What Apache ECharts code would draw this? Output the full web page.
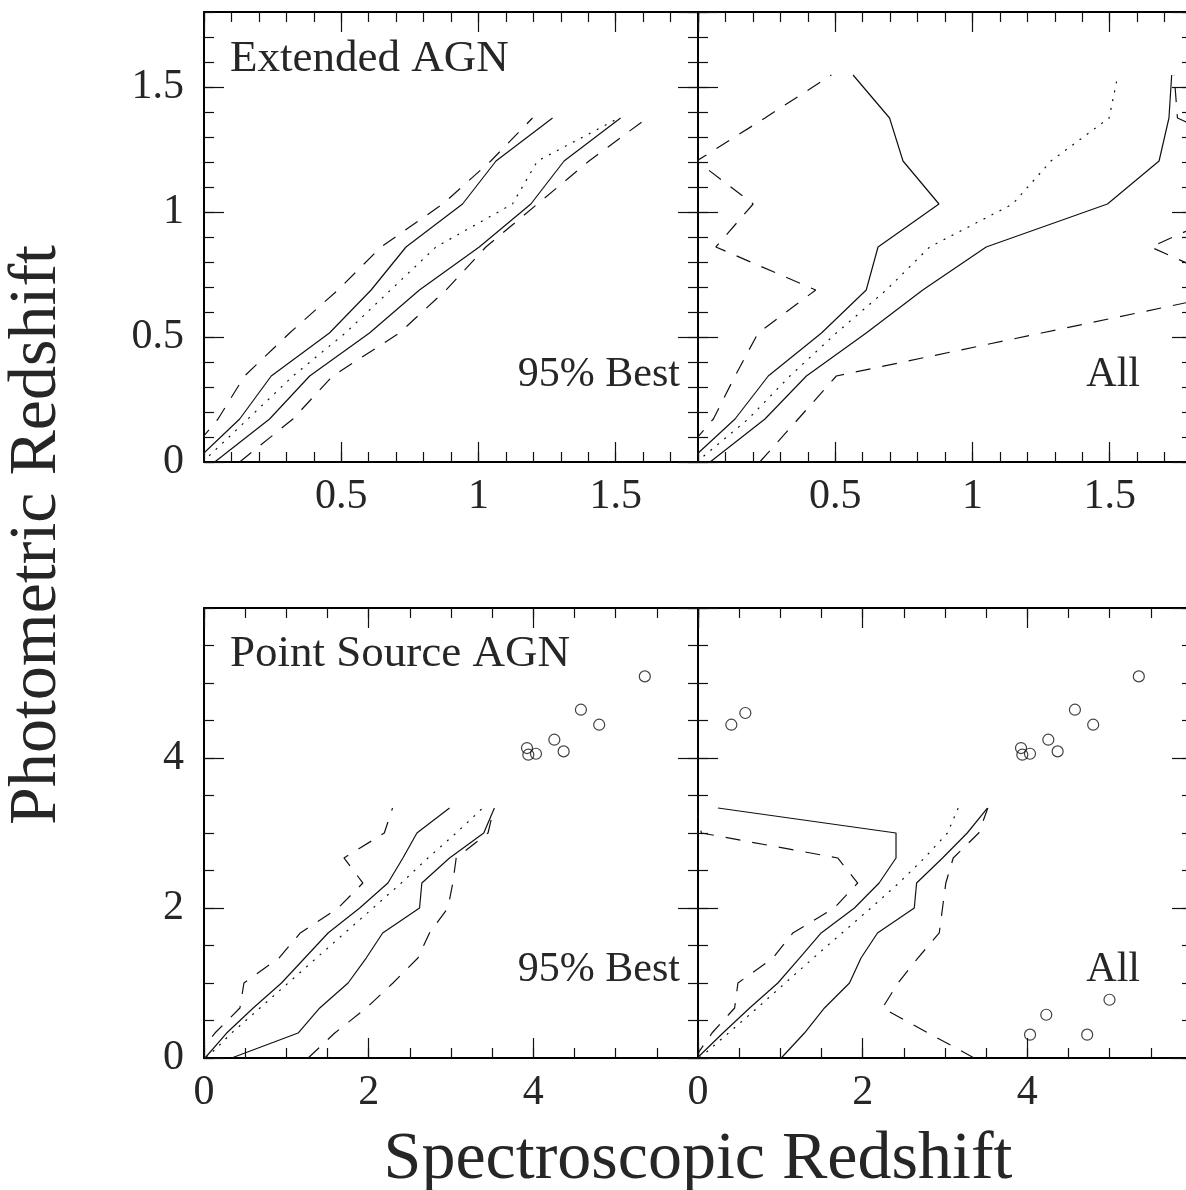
<!DOCTYPE html>
<html>
<head>
<meta charset="utf-8">
<script src="https://cdn.jsdelivr.net/npm/echarts@6/dist/echarts.min.js"></script>
<style>
  html, body { margin: 0; padding: 0; background: #fff; }
  #chart { width: 1186px; height: 1190px; }
</style>
</head>
<body>
<div id="chart"></div>
<script>
// photometric redshift bins (y) used by every curve
var extBins = [0, 0.172, 0.344, 0.516, 0.688, 0.86, 1.032, 1.204, 1.376, 1.548];
var psBins = [0, 0.333, 0.667, 1, 1.333, 1.667, 2, 2.333, 2.667, 3, 3.333];

// spectroscopic redshift at each bin: dashed outer, solid inner, dotted middle
// extended AGN, 95% best
var extBestDashHi = [-0.08, 0.051, 0.148, 0.312, 0.488, 0.645, 0.870, 1.045, 1.197];
var extBestSolidHi = [-0.035, 0.130, 0.245, 0.457, 0.609, 0.736, 0.942, 1.064, 1.270];
var extBestDot = [-0.005, 0.160, 0.324, 0.515, 0.680, 0.845, 1.124, 1.215, 1.512];
var extBestSolidLo = [0.039, 0.239, 0.385, 0.603, 0.785, 1.003, 1.191, 1.312, 1.518];
var extBestDashLo = [0.130, 0.324, 0.469, 0.712, 0.882, 1.027, 1.215, 1.403, 1.615];
// extended AGN, all
var extAllDashHi = [-0.08, 0.056, 0.135, 0.219, 0.429, 0.065, 0.201, -0.005, 0.244, 0.486];
var extAllSolidHi = [-0.035, 0.135, 0.256, 0.450, 0.613, 0.656, 0.878, 0.747, 0.698, 0.565];
var extAllDot = [-0.005, 0.183, 0.335, 0.504, 0.686, 0.844, 1.147, 1.286, 1.498, 1.530];
var extAllSolidLo = [0.044, 0.244, 0.395, 0.613, 0.819, 1.050, 1.492, 1.680, 1.716, 1.726];
var extAllDashLo = [0.225, 0.365, 0.504, 1.252, 2.0, 1.650, 2.0, 2.1, 1.747, 1.735];
// point source AGN, 95% best
var psBestDashHi = [-0.1, 0.133, 0.436, 0.485, 0.91, 1.17, 1.63, 1.93, 1.70, 2.19, 2.29];
var psBestSolidHi = [0.012, 0.275, 0.598, 0.941, 1.224, 1.507, 1.891, 2.234, 2.416, 2.586, 2.982];
var psBestDot = [0.03, 0.335, 0.679, 1.022, 1.366, 1.709, 2.053, 2.396, 2.719, 3.063, 3.386];
var psBestSolidLo = [0.335, 1.143, 1.406, 1.75, 1.97, 2.17, 2.618, 2.646, 2.982, 3.398, 3.527];
var psBestDashLo = [1.265, 1.588, 1.972, 2.295, 2.598, 2.739, 2.962, 3.022, 3.063, 3.45, 3.52];
// point source AGN, all
var psAllDashHi = [-0.04, 0.17, 0.445, 0.485, 0.91, 1.152, 1.655, 1.94, 1.697, 0.041, -0.027];
var psAllSolidHi = [-0.01, 0.303, 0.627, 0.97, 1.233, 1.496, 1.9, 2.2, 2.405, 2.405, 0.242];
var psAllDot = [0.02, 0.37, 0.72, 1.06, 1.40, 1.75, 2.10, 2.44, 2.75, 3.03, 3.16];
var psAllSolidLo = [1.011, 1.293, 1.536, 1.84, 1.98, 2.18, 2.627, 2.655, 2.970, 3.27, 3.515];
var psAllDashLo = [3.354, 2.797, 2.24, 2.43, 2.67, 2.93, 2.97, 3.01, 3.10, 3.41, 3.52];

// individual high redshift objects (circles)
var qsoX = [3.923, 3.939, 4.032, 4.255, 4.368, 4.578, 4.8, 5.354];
var qsoY = [4.133, 4.044, 4.057, 4.244, 4.088, 4.644, 4.444, 5.088];
// extra outliers only in the "All" panel
var outX = [0.405, 0.575, 4.033, 4.23, 4.727, 4.998];
var outY = [4.444, 4.6, 0.311, 0.577, 0.311, 0.777];

var FONT = 'Liberation Serif';
var INK = '#111';
var TEXT = '#262626';

var myChart = echarts.init(document.getElementById('chart'));

var grids = [
  {left: 204, top: 12, width: 494, height: 450},
  {left: 698, top: 12, width: 494, height: 450},
  {left: 204, top: 608, width: 494, height: 450},
  {left: 698, top: 608, width: 494, height: 450}
];
grids.forEach(function(g){ g.containLabel = false; g.outerBoundsMode = 'none'; });

var xAxes = [];
var yAxes = [];
//each side gets a minor axis (short ticks + frame line) and a major axis (long ticks + labels)
function addSide(list, gi, pos, max, major, minor, label) {
  list.push({
    gridIndex: gi, type: 'value', position: pos, min: 0, max: max, interval: minor,
    axisLine: {show: true, onZero: false, lineStyle: {color: '#000', width: 2}},
    axisTick: {show: true, inside: true, length: 10, lineStyle: {color: INK, width: 1.2}},
    axisLabel: {show: false}, splitLine: {show: false}
  });
  list.push({
    gridIndex: gi, type: 'value', position: pos, min: 0, max: max, interval: major,
    axisLine: {show: false, onZero: false},
    axisTick: {show: true, inside: true, length: 20, lineStyle: {color: INK, width: 1.2}},
    axisLabel: label ? {
      show: true, fontFamily: FONT, fontSize: 42, color: TEXT, margin: label.margin,
      showMinLabel: label.showMin, showMaxLabel: false
    } : {show: false},
    splitLine: {show: false}
  });
}
var panels = [
  {max: 1.8, major: 0.5, minor: 0.1, xMin: false, yLab: true},
  {max: 1.8, major: 0.5, minor: 0.1, xMin: false, yLab: false},
  {max: 6, major: 2, minor: 0.5, xMin: true, yLab: true},
  {max: 6, major: 2, minor: 0.5, xMin: true, yLab: false}
];
panels.forEach(function(p, gi){
  addSide(xAxes, gi, 'bottom', p.max, p.major, p.minor, {margin: 14, showMin: p.xMin});
  addSide(xAxes, gi, 'top', p.max, p.major, p.minor, null);
  addSide(yAxes, gi, 'left', p.max, p.major, p.minor, p.yLab ? {margin: 20, showMin: true} : null);
  addSide(yAxes, gi, 'right', p.max, p.major, p.minor, null);
});

var dashStyle = {solid: 'solid', dashed: [15, 12], dotted: [2, 7]};
var series = [];
function curve(gi, bins, xs, kind) {
  var pts = [];
  for (var i = 0; i < xs.length; i++) {
    pts.push([xs[i], bins[i]]);
  }
  series.push({
    type: 'line', xAxisIndex: gi * 4 + 1, yAxisIndex: gi * 4 + 1, data: pts,
    symbol: 'none', showSymbol: false, silent: true, clip: true,
    lineStyle: {color: INK, width: 1.2, type: dashStyle[kind]}
  });
}
function circles(gi, xs, ys) {
  var pts = [];
  for (var i = 0; i < xs.length; i++) {
    pts.push([xs[i], ys[i]]);
  }
  series.push({
    type: 'scatter', xAxisIndex: gi * 4 + 1, yAxisIndex: gi * 4 + 1, data: pts,
    symbol: 'circle', symbolSize: 11, silent: true,
    itemStyle: {color: 'rgba(0,0,0,0)', borderColor: INK, borderWidth: 1.2}
  });
}

curve(0, extBins, extBestDashHi, 'dashed');
curve(0, extBins, extBestSolidHi, 'solid');
curve(0, extBins, extBestDot, 'dotted');
curve(0, extBins, extBestSolidLo, 'solid');
curve(0, extBins, extBestDashLo, 'dashed');

curve(1, extBins, extAllDashHi, 'dashed');
curve(1, extBins, extAllSolidHi, 'solid');
curve(1, extBins, extAllDot, 'dotted');
curve(1, extBins, extAllSolidLo, 'solid');
curve(1, extBins, extAllDashLo, 'dashed');

curve(2, psBins, psBestDashHi, 'dashed');
curve(2, psBins, psBestSolidHi, 'solid');
curve(2, psBins, psBestDot, 'dotted');
curve(2, psBins, psBestSolidLo, 'solid');
curve(2, psBins, psBestDashLo, 'dashed');
circles(2, qsoX, qsoY);

curve(3, psBins, psAllDashHi, 'dashed');
curve(3, psBins, psAllSolidHi, 'solid');
curve(3, psBins, psAllDot, 'dotted');
curve(3, psBins, psAllSolidLo, 'solid');
curve(3, psBins, psAllDashLo, 'dashed');
circles(3, qsoX, qsoY);
circles(3, outX, outY);

function label(text, x, y, size, align, rot) {
  return {
    type: 'text', x: x, y: y, rotation: rot || 0, silent: true,
    style: {
      text: text, fontFamily: FONT, fontSize: size, fill: TEXT,
      align: align, verticalAlign: 'middle', textAlign: align, textVerticalAlign: 'middle'
    }
  };
}

var option = {
  animation: false,
  backgroundColor: '#fff',
  grid: grids,
  xAxis: xAxes,
  yAxis: yAxes,
  series: series,
  graphic: [
    label('Photometric Redshift', 37, 535, 68, 'center', Math.PI / 2),
    label('Spectroscopic Redshift', 698, 1160, 68, 'center'),
    label('Extended AGN', 230, 59, 45, 'left'),
    label('95% Best', 680, 375, 42, 'right'),
    label('All', 1140, 375, 42, 'right'),
    label('Point Source AGN', 230, 654, 45, 'left'),
    label('95% Best', 680, 970, 42, 'right'),
    label('All', 1140, 970, 42, 'right')
  ]
};
myChart.setOption(option);
</script>
</body>
</html>
